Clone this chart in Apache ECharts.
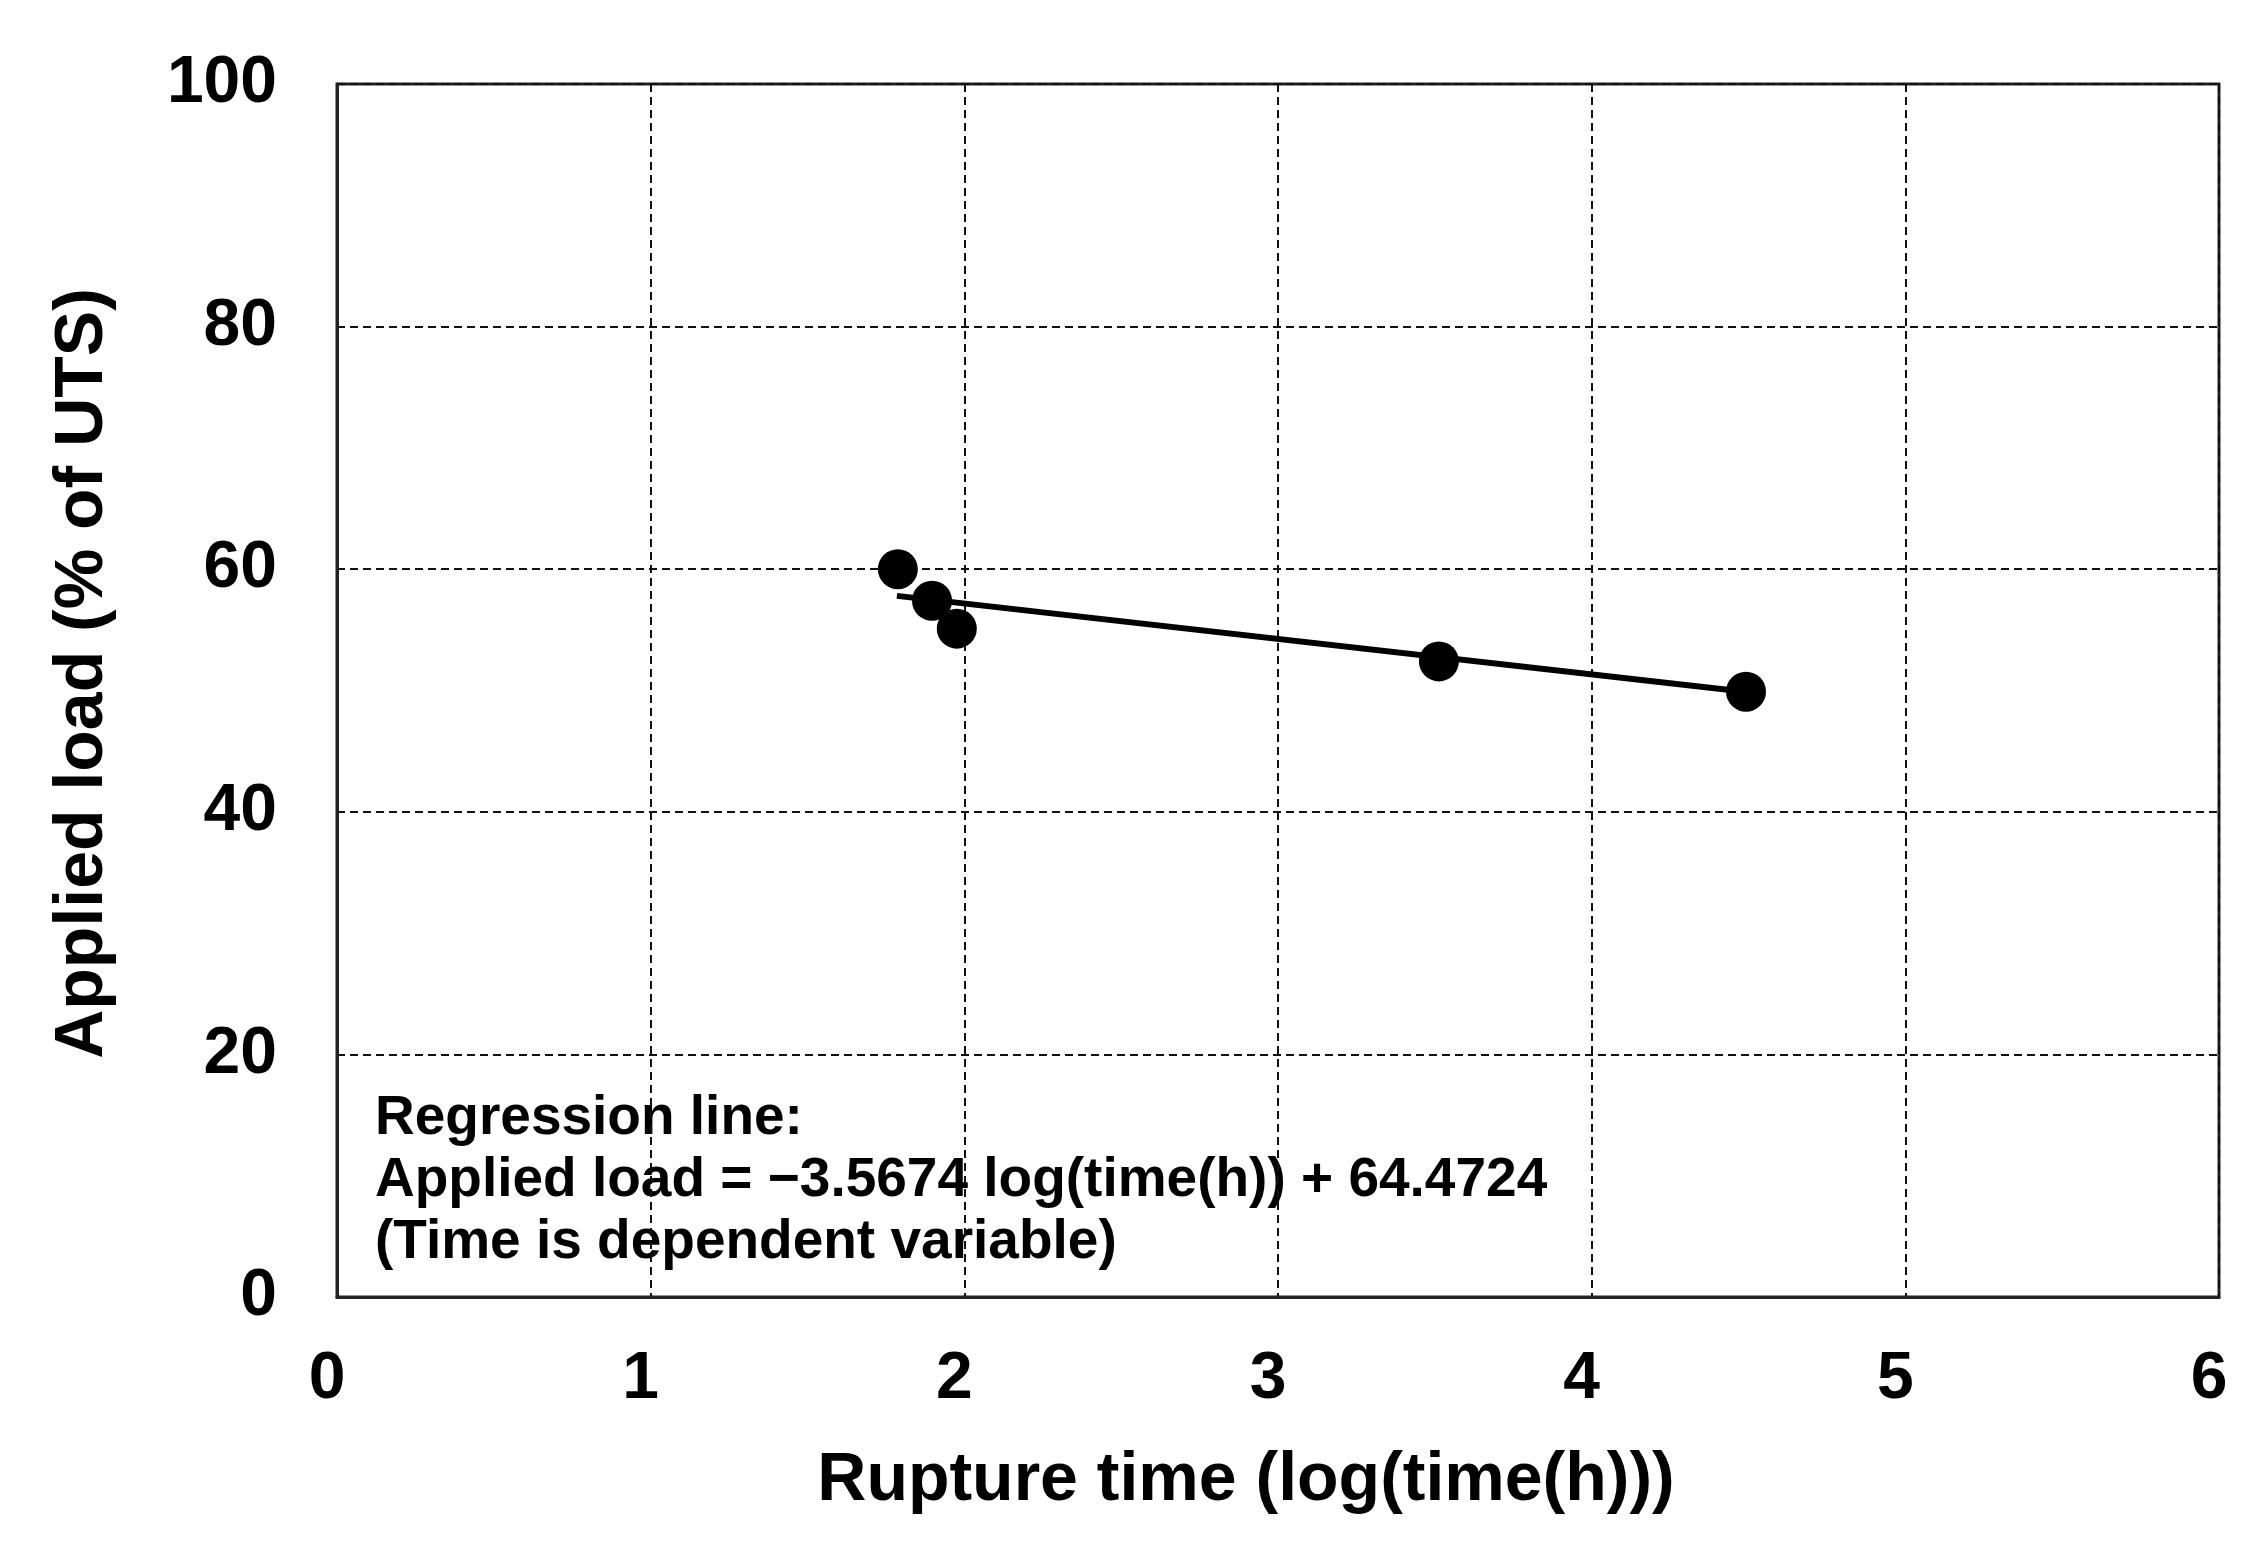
<!DOCTYPE html>
<html>
<head>
<meta charset="utf-8">
<script src="https://cdn.jsdelivr.net/npm/echarts@6/dist/echarts.min.js"></script>
<style>
html,body{margin:0;padding:0;background:#fff;}
#chart{width:2259px;height:1544px;}
</style>
</head>
<body>
<div id="chart"></div>
<script>
// Data
const ruptureLogTime = [1.788, 1.897, 1.976, 3.513, 4.492];
const appliedLoad = [60.0, 57.4, 55.1, 52.4, 49.9];
const regressionX = [1.785, 4.49];
const regressionY = [57.8, 49.9];
const xTicks = [0, 1, 2, 3, 4, 5, 6];
const yTicks = [0, 20, 40, 60, 80, 100];
const annotationLines = [
  'Regression line:',
  'Applied load = \u22123.5674 log(time(h)) + 64.4724',
  '(Time is dependent variable)'
];

const FONT = '"Liberation Sans", Arial, sans-serif';
const chart = echarts.init(document.getElementById('chart'), null, {renderer: 'canvas'});

const gridLine = {show: true, lineStyle: {color: '#111', width: 2, type: [8, 5]}};

chart.setOption({
  backgroundColor: '#fff',
  animation: false,
  grid: {left: 337, right: 40, top: 84, bottom: 247, show: true, borderColor: '#222', borderWidth: 3, backgroundColor: 'transparent'},
  xAxis: {
    type: 'value', min: xTicks[0], max: xTicks[xTicks.length - 1], interval: 1,
    name: 'Rupture time (log(time(h)))', nameLocation: 'middle', nameGap: 150,
    nameTextStyle: {fontFamily: FONT, fontWeight: 'bold', fontSize: 68, color: '#000', padding: [0, 64, 0, 0]},
    axisLine: {show: true, lineStyle: {color: '#222', width: 3}},
    axisTick: {show: false},
    splitLine: gridLine,
    axisLabel: {fontFamily: FONT, fontWeight: 'bold', fontSize: 66, color: '#000', margin: 50, padding: [0, 20, 0, 0]}
  },
  yAxis: {
    type: 'value', min: yTicks[0], max: yTicks[yTicks.length - 1], interval: 20,
    name: 'Applied load (% of UTS)', nameLocation: 'middle', nameGap: 220,
    nameTextStyle: {fontFamily: FONT, fontWeight: 'bold', fontSize: 68, color: '#000', padding: [0, 0, 0, 34]},
    axisLine: {show: true, lineStyle: {color: '#222', width: 3}},
    axisTick: {show: false},
    splitLine: gridLine,
    axisLabel: {fontFamily: FONT, fontWeight: 'bold', fontSize: 66, color: '#000', margin: 60}
  },
  series: [
    {
      type: 'line',
      data: regressionX.map((x, i) => [x, regressionY[i]]),
      showSymbol: false, symbol: 'none',
      lineStyle: {color: '#000', width: 6},
      z: 2
    },
    {
      type: 'scatter',
      data: ruptureLogTime.map((x, i) => [x, appliedLoad[i]]),
      symbol: 'circle', symbolSize: 40,
      itemStyle: {color: '#000', opacity: 1},
      z: 3
    }
  ],
  graphic: [{
    type: 'text', left: 375, top: 1088,
    style: {
      text: annotationLines.join('\n'),
      font: 'bold 55px "Liberation Sans", Arial, sans-serif',
      fill: '#000', lineHeight: 62
    }
  }]
});
</script>
</body>
</html>
